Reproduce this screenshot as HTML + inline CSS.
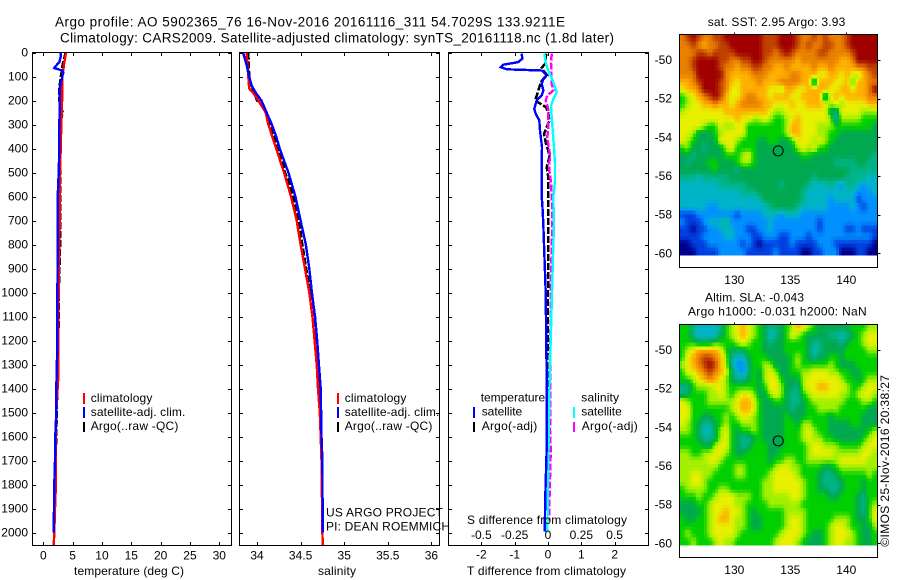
<!DOCTYPE html>
<html>
<head>
<meta charset="utf-8">
<title>Argo profile</title>
<style>
html,body{margin:0;padding:0;background:#fff;}
svg{display:block;}
text{font-family:"Liberation Sans",sans-serif;font-size:12px;fill:#000;dominant-baseline:central;}
.t{font-size:13.5px;}
</style>
</head>
<body>
<svg id="chart" width="900" height="580" viewBox="0 0 900 580" xmlns="http://www.w3.org/2000/svg">
<defs>
<clipPath id="clip1"><rect x="32" y="52" width="200" height="494"/></clipPath>
<clipPath id="clip2"><rect x="239" y="52" width="201" height="494"/></clipPath>
<clipPath id="clip3"><rect x="448" y="52" width="201" height="494"/></clipPath>
</defs>
<rect width="900" height="580" fill="#fff"/>
<g id="marks"></g>
<text class="t" x="55" y="22" textLength="510">Argo profile: AO 5902365_76 16-Nov-2016 20161116_311 54.7029S 133.9211E</text>
<text class="t" x="60" y="38" textLength="554">Climatology: CARS2009. Satellite-adjusted climatology: synTS_20161118.nc (1.8d later)</text>
<text x="74" y="571" textLength="110">temperature (deg C)</text>
<text x="318" y="571" textLength="38">salinity</text>
<text x="467" y="571" textLength="159">T difference from climatology</text>
<text x="467" y="520" textLength="160">S difference from climatology</text>

<g>
<rect x="83" y="393" width="2" height="11" fill="#ff0000"/>
<rect x="83" y="407" width="2" height="11" fill="#0000ff"/>
<rect x="83" y="422" width="2" height="10" fill="#000"/>
<text x="90.7" y="398" textLength="61.7">climatology</text>
<text x="90.7" y="412" textLength="94.7">satellite-adj. clim.</text>
<text x="90.7" y="426" textLength="87.7">Argo(..raw -QC)</text>
</g>
<g>
<rect x="337" y="393" width="2" height="11" fill="#ff0000"/>
<rect x="337" y="407" width="2" height="11" fill="#0000ff"/>
<rect x="337" y="422" width="2" height="10" fill="#000"/>
<text x="344.7" y="398" textLength="61.7">climatology</text>
<text x="344.7" y="412" textLength="94.7">satellite-adj. clim.</text>
<text x="344.7" y="426" textLength="87.7">Argo(..raw -QC)</text>
</g>
<text x="326" y="512.7" textLength="117">US ARGO PROJECT</text>
<text x="326" y="526.7" textLength="124">PI: DEAN ROEMMICH</text>
<g>
<text x="480.7" y="397.7" textLength="64.5">temperature</text>
<text x="481.7" y="411.7" textLength="40.5">satellite</text>
<text x="481.7" y="426" textLength="55.5">Argo(-adj)</text>
<text x="581.3" y="397.7" textLength="37.7">salinity</text>
<text x="581.3" y="411.7" textLength="40.5">satellite</text>
<text x="581.7" y="426" textLength="56">Argo(-adj)</text>
<rect x="473" y="407" width="2" height="11" fill="#0000ff"/>
<rect x="473" y="422" width="2" height="10" fill="#000"/>
<rect x="573" y="407" width="2" height="11" fill="#00ffff"/>
<rect x="573" y="422" width="2" height="10" fill="#ff00ff"/>
</g>
<text x="707.7" y="22" textLength="137.6">sat. SST: 2.95 Argo: 3.93</text>
<text x="705" y="297.3" textLength="99">Altim. SLA: -0.043</text>
<text x="688" y="311.7" textLength="178.7">Argo h1000: -0.031 h2000: NaN</text>
<text transform="translate(885 546.7) rotate(-90)" x="0" y="0" textLength="171.7">©IMOS 25-Nov-2016 20:38:27</text>
</svg>
<script>
// ---------- profile data (depth in m, temperature in deg C, salinity in psu) ----------
const depthTicks = [0,100,200,300,400,500,600,700,800,900,1000,1100,1200,1300,1400,1500,1600,1700,1800,1900,2000];
const tempTicks = [0,5,10,15,20,25,30];
const salTicks = [34,34.5,35,35.5,36];
const salTickLabels = ['34','34.5','35','35.5','36'];
const tDiffTicks = [-2,-1,0,1,2];
const sDiffTicks = [-0.5,-0.25,0,0.25,0.5];
const sDiffTickLabels = ['-0.5','-0.25','0','0.25','0.5'];

const tempClimDepth = [0,50,100,200,300,400,500,700,1000,1200,1350,1500,1700,1800,1900,2000,2055];
const tempClim = [3.87,3.53,3.25,3.2,3.07,2.96,2.85,2.8,2.6,2.56,2.55,2.2,2.1,2.15,2.0,1.88,1.77];
const tempSatDepth = [0,20,40,60,65,70,75,85,100,130,150,200,300,400,500,600,800,1000,1200,1400,1500,1600,1700,1800,1900,2000];
const tempSat = [3.0,2.95,2.73,2.0,1.88,2.56,3.24,3.41,3.24,2.96,2.8,2.85,2.73,2.73,2.62,2.45,2.45,2.4,2.4,2.22,2.22,2.05,2.0,1.88,1.82,1.77];
const tempArgoDepth = [0,50,100,150,200,250,300,400,500,700,770,1000,1100,1300,1500,1750,1980];
const tempArgo = [3.8,3.3,3.0,2.73,2.73,3.3,2.85,2.85,2.85,2.85,2.9,2.65,2.65,2.45,2.3,2.05,1.9];

const salClimDepth = [0,100,150,170,200,250,300,400,500,600,700,800,900,1000,1100,1200,1300,1400,1500,1600,1700,2000,2055];
const salClim = [33.88,33.9,33.91,33.96,34.015,34.1,34.13,34.22,34.31,34.39,34.455,34.5,34.55,34.6,34.635,34.66,34.685,34.7,34.72,34.73,34.74,34.75,34.755];
const salSatDepth = [0,50,100,140,170,200,250,300,350,400,450,500,600,700,800,900,1000,1100,1200,1300,1400,1500,1600,1700,2000];
const salSat = [33.84,33.88,33.91,33.94,33.99,34.05,34.11,34.17,34.22,34.26,34.31,34.36,34.44,34.5,34.56,34.6,34.63,34.665,34.69,34.71,34.73,34.735,34.74,34.75,34.753];
const salArgoDepth = [0,100,150,180,200,210,250,300,350,400,450,500,550,600,700,800,1000,1100,1200,1300,1400];
const salArgo = [33.9,33.91,33.93,33.98,34.0,34.05,34.1,34.16,34.19,34.23,34.29,34.32,34.38,34.41,34.48,34.52,34.61,34.665,34.68,34.69,34.71];

const tDiffSatDepth = [5,26,40,51,61,70,75,96,110,130,158,179,200,235,255,283,325,360,394,464,603,630,714,1000,1367,1644,1850,1996];
const tDiffSat = [-0.79,-0.77,-0.89,-1.34,-1.42,-1.24,-0.19,-0.04,-0.14,-0.19,-0.14,-0.19,-0.34,-0.41,-0.37,-0.26,-0.24,-0.21,-0.18,-0.19,-0.19,-0.17,-0.14,-0.07,-0.04,-0.04,-0.08,-0.1];
const tDiffArgoDepth = [5,47,64,75,96,117,145,172,200,228,250,285,318,339,380,408,436,478,520,560,600,660,714,1000,1367,1700];
const tDiffArgo = [-0.05,-0.09,-0.19,-0.14,-0.02,-0.19,-0.26,-0.32,-0.39,-0.06,0.01,0.04,-0.06,-0.12,-0.06,0.01,0.04,-0.04,0.01,0.01,0.01,0.01,0.01,0.0,-0.02,-0.02];
const sDiffSatDepth = [5,47,75,117,165,194,222,270,325,394,464,533,603,714,800,1000,1367,2000];
const sDiffSat = [-0.0275,-0.015,0.0025,0.035,0.065,0.04,0.0225,0.0275,0.035,0.045,0.0525,0.0525,0.04,0.045,0.04,0.03,0.012,-0.005];
const sDiffArgoDepth = [5,47,89,130,158,179,200,235,270,311,353,388,422,464,492,533,589,644,714,1000,1575,1660,1880,1950];
const sDiffArgo = [0.0275,0.0225,0.0225,0.0275,0.04,-0.005,-0.0175,0.0025,0.0025,0.0025,-0.005,0.0025,0.015,0.01,0.01,0.02,0.0275,0.0325,0.0325,0.02,0.015,0.02,0.01,0.01];

// ---------- map data ----------
const lonTicks = [130,135,140];
const latTicks = [-50,-52,-54,-56,-58,-60];
const argoLon = 133.92;
const argoLat = -54.70;
const colorScale = ['#000090','#0040e0','#0090ff','#00b4c8','#00b488','#00a850','#00d000','#a0f000','#e8f000','#ffb000','#e88000','#c04000','#a00000'];

const sstGrid = [
[10,11,12,11,10,10,11,11,12,12,12,12,12,12,12,11,11,11,12,12,12,11,10,10,11,10,11,10,10,10,11,12,12,12,12,12],
[10,10,11,10,9,10,10,11,11,12,12,12,12,12,12,11,11,11,12,12,12,11,10,11,10,10,11,11,10,10,11,12,12,12,12,12],
[10,10,10,11,11,10,11,11,11,11,12,12,12,12,12,11,11,10,11,12,11,10,10,10,10,11,11,10,10,10,10,11,12,12,12,12],
[10,10,11,12,12,12,12,11,11,10,10,11,11,12,12,11,10,10,10,10,10,9,10,10,10,10,10,10,10,9,9,10,12,12,12,12],
[10,10,11,12,12,12,12,11,10,10,9,10,10,11,11,10,10,9,9,10,9,9,9,9,10,9,9,10,9,9,9,9,10,10,11,11],
[10,10,10,12,12,12,12,12,10,9,9,9,9,10,10,10,9,9,9,9,10,10,9,9,9,8,8,9,9,8,9,8,7,9,10,11],
[9,9,10,11,12,12,12,11,10,9,8,9,9,9,10,9,9,9,10,10,10,10,9,9,4,9,9,9,8,8,9,6,9,9,10,10],
[8,9,9,10,12,12,12,11,10,8,8,9,9,9,9,9,8,8,7,9,9,8,8,9,9,9,9,8,8,9,9,8,9,9,10,12],
[6,7,8,9,10,11,12,11,9,8,8,9,10,10,9,9,8,9,9,9,8,8,9,9,9,9,4,8,9,8,9,9,9,9,10,10],
[6,7,8,8,9,9,10,9,9,8,9,10,10,10,10,9,9,8,8,8,9,8,8,9,9,9,8,7,8,7,8,8,8,8,9,9],
[7,8,8,8,8,8,8,8,9,9,9,9,9,9,9,9,8,7,7,8,8,8,8,8,8,8,8,5,4,8,8,8,8,7,7,7],
[8,8,8,8,8,8,8,8,8,8,9,8,8,7,7,8,7,6,6,7,8,9,8,8,8,8,8,7,3,7,7,7,7,6,6,6],
[8,8,8,8,7,6,6,8,7,7,8,8,6,6,6,6,6,6,6,7,9,9,8,8,8,7,7,7,6,6,6,6,6,6,6,5],
[8,8,7,5,5,5,6,7,8,8,8,8,6,6,6,6,6,6,6,7,9,9,8,8,8,7,7,6,6,5,5,5,5,5,5,5],
[8,7,6,5,5,5,5,8,8,8,7,6,6,6,5,5,6,6,5,5,6,8,8,8,7,8,7,6,5,5,5,5,5,5,5,5],
[6,7,5,5,4,5,5,5,7,8,6,6,6,6,5,5,5,5,5,5,5,7,8,7,8,6,6,5,5,5,5,5,5,5,5,5],
[5,5,4,5,5,5,5,5,6,6,6,7,8,6,5,5,5,5,5,5,5,5,6,6,5,5,5,5,5,5,5,5,5,5,5,4],
[5,4,5,5,5,6,6,5,5,5,6,7,7,6,5,5,5,5,5,5,5,5,5,5,5,5,5,5,4,4,4,4,5,5,4,4],
[5,5,5,5,5,5,6,5,5,5,4,5,5,5,5,5,5,5,5,5,5,5,5,5,5,5,5,5,5,5,5,4,4,4,4,4],
[4,4,4,3,4,4,4,4,4,5,5,5,5,5,5,5,5,5,5,5,5,5,5,5,4,5,5,5,5,5,4,4,4,4,3,3],
[3,3,3,3,3,3,3,4,4,4,4,4,5,5,5,5,5,5,4,5,5,5,5,4,3,3,3,4,3,2,4,4,3,2,3,3],
[3,3,3,3,3,3,3,3,3,3,3,4,4,4,5,5,5,5,5,5,5,5,4,3,3,3,3,3,3,3,3,3,2,2,2,3],
[3,3,3,3,3,3,3,3,3,3,3,3,3,3,3,5,5,5,5,5,5,5,4,3,3,3,3,2,3,3,3,3,1,2,2,2],
[3,3,3,3,3,2,2,3,3,3,3,3,3,3,3,3,4,5,5,5,5,4,3,3,3,3,3,2,2,2,2,3,2,1,2,2],
[1,1,1,2,2,2,2,2,2,2,1,2,2,2,2,3,3,3,2,3,3,3,2,2,2,2,2,2,2,2,2,2,2,2,2,2],
[2,1,1,1,2,3,3,3,4,2,2,2,2,2,2,2,3,2,2,2,2,2,2,2,2,1,2,2,2,2,2,2,2,2,2,2],
[1,1,0,1,1,2,2,3,3,3,2,2,1,1,2,2,3,2,2,2,2,2,2,2,2,1,2,2,2,2,1,1,2,1,1,1],
[1,1,1,1,2,2,2,2,3,3,2,2,2,1,1,2,2,2,1,1,2,2,2,1,2,2,2,2,2,2,2,2,2,2,2,1],
[0,0,1,1,1,2,2,2,2,2,2,1,2,1,0,1,1,1,1,1,2,1,1,1,1,2,2,2,1,1,1,1,1,1,1,0],
[0,0,0,1,1,1,1,2,2,2,2,2,1,1,1,1,1,2,1,1,1,1,0,0,1,1,2,2,2,0,0,0,1,1,0,0]
];

const slaGrid = [
[6,6,4,3,3,3,3,4,6,7,8,9,8,7,6,5,4,4,5,6,7,9,8,7,6,5,5,5,5,5,5,6,6,6,7,7],
[6,6,4,3,3,3,3,5,6,7,8,9,8,7,6,5,3,4,5,6,8,7,6,5,5,5,5,4,4,3,4,5,6,7,8,8],
[6,6,6,5,5,5,6,6,6,6,7,8,7,6,6,5,4,5,5,6,6,6,6,5,4,4,5,5,5,4,5,6,6,7,8,8],
[6,7,8,9,9,9,9,8,6,5,5,5,6,6,6,5,5,5,5,6,6,6,6,5,3,4,5,5,5,5,6,6,6,6,7,7],
[6,8,9,10,11,11,10,9,7,4,3,3,5,6,6,6,5,5,5,5,6,7,6,5,4,5,5,6,6,5,6,6,6,6,6,6],
[7,8,9,10,11,12,11,9,7,4,2,2,4,6,6,7,7,5,5,5,6,7,6,6,6,6,6,7,6,5,5,5,6,6,6,6],
[6,8,8,9,10,11,10,9,8,5,3,2,4,6,5,7,8,7,5,5,6,6,7,7,8,8,8,7,7,6,6,5,5,6,6,6],
[6,6,7,8,9,10,9,8,7,5,4,4,5,6,5,7,8,8,6,5,5,5,7,8,8,8,8,8,8,7,6,6,5,6,7,7],
[4,4,6,7,7,7,8,8,7,6,6,6,6,6,5,6,8,8,7,5,5,4,7,8,8,9,9,8,8,8,7,6,6,7,8,8],
[4,5,6,6,6,7,7,8,7,6,7,8,8,7,5,5,7,8,7,5,4,4,6,7,8,8,8,8,8,7,7,6,7,8,8,7],
[8,7,6,6,6,7,7,7,7,7,8,9,9,8,6,5,5,6,6,5,4,4,5,6,7,7,7,7,7,7,6,6,6,7,7,6],
[8,8,6,6,6,6,6,6,6,7,8,9,9,8,6,5,5,5,5,5,4,5,5,6,6,7,7,7,7,6,6,6,6,6,5,5],
[8,8,6,6,5,5,6,6,7,6,7,8,8,7,6,5,5,5,5,6,5,5,5,6,6,6,6,5,6,6,6,6,6,5,5,5],
[8,7,6,5,4,4,5,6,7,6,6,7,7,7,6,5,5,5,5,6,6,5,7,7,6,6,6,5,5,5,5,6,6,5,5,5],
[7,7,6,5,3,3,5,7,8,6,5,6,6,7,6,5,5,5,5,6,6,6,7,8,7,6,6,5,5,5,5,5,5,5,6,7],
[6,6,6,5,4,4,5,7,8,6,5,4,4,5,6,5,5,5,5,6,6,6,7,8,7,7,6,6,5,5,5,5,5,6,7,8],
[6,6,6,6,5,5,7,8,8,6,5,4,4,6,6,6,5,5,5,6,6,6,6,7,8,8,7,7,7,6,6,6,6,7,8,8],
[7,7,6,6,7,7,8,8,7,6,5,5,6,6,6,6,5,5,6,6,6,6,6,7,8,8,8,8,7,7,7,7,7,8,8,7],
[7,7,7,7,7,8,8,7,6,6,6,6,6,6,6,6,5,6,6,7,7,6,6,7,7,7,7,7,7,8,8,8,8,8,7,7],
[7,7,7,7,7,7,7,6,6,6,7,7,6,6,6,6,6,7,8,8,7,7,6,6,6,6,5,5,6,7,7,7,7,7,7,7],
[7,7,8,8,7,7,6,6,6,6,7,7,6,6,6,6,7,8,8,8,8,7,6,6,6,5,4,4,5,6,6,6,6,6,7,6],
[7,7,8,8,7,6,6,6,6,6,6,6,6,6,6,7,7,8,8,8,8,8,7,6,6,5,4,4,4,5,6,6,6,5,6,6],
[6,7,7,7,7,6,6,7,7,6,6,6,6,6,6,7,7,8,8,8,8,8,7,6,6,5,5,4,4,5,6,6,6,5,6,6],
[6,6,6,7,6,6,7,8,8,8,7,7,7,6,6,7,7,7,7,7,8,8,7,6,6,6,6,5,5,6,6,6,5,4,6,6],
[5,5,5,6,6,7,8,8,8,8,7,7,6,6,6,6,7,7,7,7,7,7,6,6,6,6,6,6,6,6,6,6,5,4,6,7],
[5,5,5,5,6,7,8,8,9,8,8,7,6,5,6,6,6,6,6,7,7,7,7,6,6,6,6,6,6,6,6,6,5,4,6,8],
[6,5,5,6,6,7,8,9,9,8,7,7,6,5,5,6,6,6,6,7,8,8,7,6,6,6,6,6,7,7,7,6,5,5,6,8],
[6,6,6,6,6,7,8,8,8,8,7,7,6,5,5,6,6,6,6,7,8,8,7,6,6,6,6,7,8,8,7,6,6,5,5,7],
[6,7,6,6,6,7,8,8,8,8,7,6,6,6,6,6,6,6,7,8,8,8,7,6,5,5,6,7,8,8,8,7,6,5,5,6],
[6,6,7,6,6,6,7,8,7,7,6,6,6,6,6,6,6,7,8,8,8,7,6,5,5,5,6,7,8,8,7,7,6,5,5,6]
];

// ---------- axis functions ----------
const NS = 'http://www.w3.org/2000/svg';
const root = document.getElementById('marks');
const yDepth = d => 52.5 + d * 0.24;
const xTemp = t => 43.3 + t * 5.867;
const xSal = s => 257 + (s - 34) * 87.2;
const xTDiff = t => 548 + t * 33.33;
const xSDiff = s => 548 + s * 133.3;
const xLon = lon => 734.3 + (lon - 130) * 11.2;
const yLatSst = lat => 60 + (-50 - lat) * 19.33;
const yLatSla = lat => 350 + (-50 - lat) * 19.33;
const GRID_W_LON = 125.09;
const GRID_E_LON = 142.77;
const GRID_N_LAT = -48.67;
const GRID_S_LAT = -60.07;

function svgEl(tag, parent, attrs) {
  const el = document.createElementNS(NS, tag);
  for (const k in attrs) el.setAttribute(k, attrs[k]);
  parent.appendChild(el);
  return el;
}

function drawLine(parent, name, x1, y1, x2, y2) {
  const el = svgEl('line', parent, {x1: x1, y1: y1, x2: x2, y2: y2, stroke: '#000', 'stroke-width': 1, 'shape-rendering': 'crispEdges'});
  
  
}

function drawLabel(parent, name, x, y, anchor, str) {
  const el = svgEl('text', parent, {x: x, y: y, 'text-anchor': anchor});
  el.textContent = str;
  
  
}

function drawFrame(parent, name, x0, x1, y0, y1) {
  const el = svgEl('rect', parent, {x: x0, y: y0, width: x1 - x0, height: y1 - y0, fill: 'none', stroke: '#000', 'stroke-width': 1, 'shape-rendering': 'crispEdges'});
  
  
}

function drawSeries(parent, name, clip, xFn, values, depths, color, dash) {
  const pts = values.map((v, i) => xFn(v).toFixed(1) + ',' + yDepth(depths[i]).toFixed(1)).join(' ');
  const el = svgEl('polyline', parent, {points: pts, fill: 'none', stroke: color, 'stroke-width': dash ? 2.5 : 2.4, 'shape-rendering': 'crispEdges', 'clip-path': 'url(#' + clip + ')'});
  if (dash) el.setAttribute('stroke-dasharray', dash);
  
  
}

const TOP = 52.5, BOTTOM = 545.5;

function depthAxis(parent, x0, x1, withLabels) {
  depthTicks.forEach(d => {
    const y = Math.round(yDepth(d)) + 0.5;
    drawLine(parent, 'depth-tick-left', x0, y, x0 + 3.5, y);
    drawLine(parent, 'depth-tick-right', x1 - 3.5, y, x1, y);
    if (withLabels) drawLabel(parent, 'depth-tick-label', 28, yDepth(d), 'end', String(d));
  });
}

function xAxis(parent, xFn, ticks, labels, labelY) {
  ticks.forEach((t, i) => {
    const x = Math.round(xFn(t)) + 0.5;
    drawLine(parent, 'x-tick-bottom', x, BOTTOM - 3.5, x, BOTTOM);
    drawLine(parent, 'x-tick-top', x, TOP, x, TOP + 3.5);
    drawLabel(parent, 'x-tick-label', xFn(t), labelY, 'middle', labels[i]);
  });
}

// ---------- panel 1: temperature ----------
const p1 = svgEl('g', root, {});


drawSeries(p1, 'temperature-argo-line', 'clip1', xTemp, tempArgo, tempArgoDepth, '#000', '7 2');
drawSeries(p1, 'temperature-climatology-line', 'clip1', xTemp, tempClim, tempClimDepth, '#ff0000');
drawSeries(p1, 'temperature-satellite-line', 'clip1', xTemp, tempSat, tempSatDepth, '#0000ff');
drawFrame(p1, 'temperature-plot-frame', 32.5, 231.5, TOP, BOTTOM);
depthAxis(p1, 32.5, 231.5, true);
xAxis(p1, xTemp, tempTicks, tempTicks.map(String), 555.6);

// ---------- panel 2: salinity ----------
const p2 = svgEl('g', root, {});


drawSeries(p2, 'salinity-argo-line', 'clip2', xSal, salArgo, salArgoDepth, '#000', '7 2');
drawSeries(p2, 'salinity-climatology-line', 'clip2', xSal, salClim, salClimDepth, '#ff0000');
drawSeries(p2, 'salinity-satellite-line', 'clip2', xSal, salSat, salSatDepth, '#0000ff');
drawFrame(p2, 'salinity-plot-frame', 239.5, 439.5, TOP, BOTTOM);
depthAxis(p2, 239.5, 439.5, false);
xAxis(p2, xSal, salTicks, salTickLabels, 555.6);

// ---------- panel 3: differences ----------
const p3 = svgEl('g', root, {});


drawSeries(p3, 'difference-t-argo-line', 'clip3', xTDiff, tDiffArgo, tDiffArgoDepth, '#000', '7 2');
drawSeries(p3, 'difference-s-argo-line', 'clip3', xSDiff, sDiffArgo, sDiffArgoDepth, '#ff00ff', '7 2');
drawSeries(p3, 'difference-s-satellite-line', 'clip3', xSDiff, sDiffSat, sDiffSatDepth, '#00ffff');
drawSeries(p3, 'difference-t-satellite-line', 'clip3', xTDiff, tDiffSat, tDiffSatDepth, '#0000ff');
drawFrame(p3, 'difference-plot-frame', 448.5, 648.5, TOP, BOTTOM);
depthAxis(p3, 448.5, 648.5, false);
xAxis(p3, xTDiff, tDiffTicks, tDiffTicks.map(String), 554.7);
sDiffTicks.forEach((s, i) => {
  drawLabel(p3, 's-difference-tick-label', xSDiff(s), 535, 'middle', sDiffTickLabels[i]);
});

// ---------- maps ----------
function hexToRgb(h) {
  return [parseInt(h.slice(1, 3), 16), parseInt(h.slice(3, 5), 16), parseInt(h.slice(5, 7), 16)];
}

function colorFor(v) {
  const i = Math.max(0, Math.min(colorScale.length - 2, Math.floor(v)));
  const f = Math.max(0, Math.min(1, v - i));
  const a = hexToRgb(colorScale[i]);
  const b = hexToRgb(colorScale[i + 1]);
  return 'rgb(' + a.map((ca, k) => Math.round(ca + (b[k] - ca) * f)).join(',') + ')';
}

// Value at fractional grid position, blended between neighbouring grid cells.
function sampleGrid(grid, fr, fc) {
  const rows = grid.length;
  const cols = grid[0].length;
  const r = Math.max(0, Math.min(rows - 1, fr));
  const c = Math.max(0, Math.min(cols - 1, fc));
  const r0 = Math.floor(r), c0 = Math.floor(c);
  const r1 = Math.min(rows - 1, r0 + 1), c1 = Math.min(cols - 1, c0 + 1);
  const tr = r - r0, tc = c - c0;
  return (grid[r0][c0] * (1 - tc) + grid[r0][c1] * tc) * (1 - tr) + (grid[r1][c0] * (1 - tc) + grid[r1][c1] * tc) * tr;
}

function drawMap(name, grid, yLat, frameTop, frameBottom, labelY) {
  const g = svgEl('g', root, {});
  
  
  const rows = grid.length;
  const cols = grid[0].length;
  const dLon = (GRID_E_LON - GRID_W_LON) / cols;
  const dLat = (GRID_N_LAT - GRID_S_LAT) / rows;
  const SUB = 2;
  const OVERLAP = 0.6;
  for (let r = 0; r < rows * SUB; r++) {
    for (let c = 0; c < cols * SUB; c++) {
      const v = sampleGrid(grid, (r + 0.5) / SUB - 0.5, (c + 0.5) / SUB - 0.5);
      const xa = xLon(GRID_W_LON + c / SUB * dLon);
      const xb = xLon(GRID_W_LON + (c + 1) / SUB * dLon);
      const ya = yLat(GRID_N_LAT - r / SUB * dLat);
      const yb = yLat(GRID_N_LAT - (r + 1) / SUB * dLat);
      const cell = svgEl('rect', g, {x: xa.toFixed(2), y: ya.toFixed(2), width: (xb - xa + OVERLAP).toFixed(2), height: (yb - ya + OVERLAP).toFixed(2), fill: colorFor(v), 'shape-rendering': 'crispEdges'});
      
      
    }
  }
  drawFrame(g, 'map-frame', 679.5, 877.5, frameTop, frameBottom);
  lonTicks.forEach(lon => {
    const x = Math.round(xLon(lon)) + 0.5;
    drawLine(g, 'map-top-tick', x, frameTop - 2, x, frameTop);
    drawLabel(g, 'map-lon-label', xLon(lon), labelY, 'middle', String(lon));
  });
  latTicks.forEach(lat => {
    const y = Math.round(yLat(lat)) + 0.5;
    drawLine(g, 'map-right-tick', 877.5, y, 880.5, y);
    drawLabel(g, 'map-lat-label', 672, yLat(lat), 'end', String(lat));
  });
  const marker = svgEl('circle', g, {cx: xLon(argoLon), cy: yLat(argoLat), r: 5, fill: 'none', stroke: '#000', 'stroke-width': 1});
  
  
}

drawMap('sst-map', sstGrid, yLatSst, 34.5, 267.5, 280);
drawMap('sla-map', slaGrid, yLatSla, 324.5, 557.5, 570);
</script>
</body>
</html>
